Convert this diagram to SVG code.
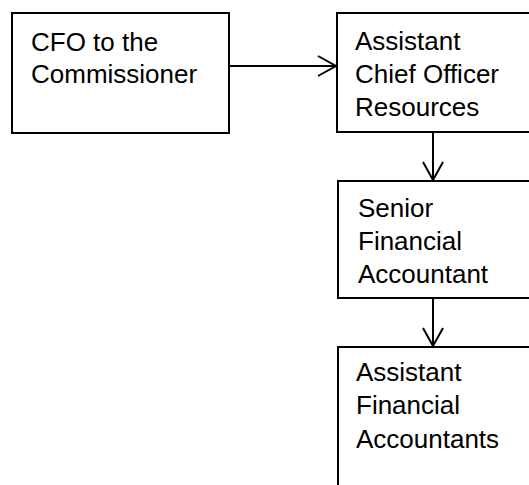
<svg xmlns="http://www.w3.org/2000/svg" width="529" height="485" viewBox="0 0 529 485">
<style>
.box{fill:#fff;stroke:#000;stroke-width:2}
.t{font-family:"Liberation Sans",Arial,sans-serif;font-size:26px;fill:#000}
.c{stroke:#000;stroke-width:2;fill:none}
</style>
<defs>
<marker id="v" markerUnits="userSpaceOnUse" markerWidth="22" markerHeight="24" refX="19" refY="11" orient="auto" viewBox="0 0 22 22">
<path d="M1,1 L19,11 L1,21" fill="none" stroke="#000" stroke-width="2"/>
</marker>
</defs>
<rect width="529" height="485" fill="#fff"/>
<g id="cfo">
<rect class="box" x="12" y="13" width="217" height="120"/>
<text class="t" x="31" y="51">CFO to the</text>
<text class="t" x="31" y="83">Commissioner</text>
</g>
<g id="aco">
<rect class="box" x="337" y="13" width="220" height="119"/>
<text class="t" x="355" y="50">Assistant</text>
<text class="t" x="355" y="83">Chief Officer</text>
<text class="t" x="355" y="116">Resources</text>
</g>
<g id="sfa">
<rect class="box" x="338" y="181" width="220" height="117"/>
<text class="t" x="358" y="217">Senior</text>
<text class="t" x="358" y="250">Financial</text>
<text class="t" x="358" y="283">Accountant</text>
</g>
<g id="afa">
<rect class="box" x="338" y="347" width="220" height="160"/>
<text class="t" x="356" y="381">Assistant</text>
<text class="t" x="356" y="414">Financial</text>
<text class="t" x="356" y="448">Accountants</text>
</g>
<g id="connectors">
<line class="c" x1="229" y1="66" x2="336" y2="66" marker-end="url(#v)"/>
<line class="c" x1="433" y1="132" x2="433" y2="180" marker-end="url(#v)"/>
<line class="c" x1="433" y1="298" x2="433" y2="346" marker-end="url(#v)"/>
</g>
</svg>
